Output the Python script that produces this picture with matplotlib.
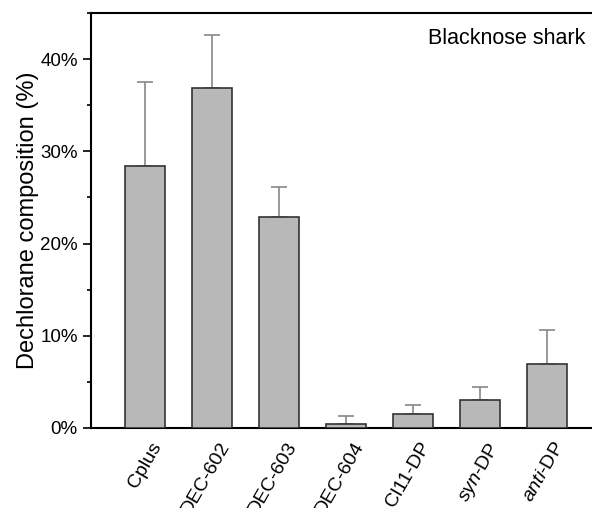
import matplotlib
matplotlib.use("Agg")
import matplotlib.pyplot as plt
import matplotlib.transforms as mtransforms
from matplotlib.ticker import MultipleLocator, FuncFormatter

plt.rcParams['font.family'] = ['Liberation Sans', 'DejaVu Sans']
plt.rcParams['mathtext.fontset'] = 'custom'
plt.rcParams['mathtext.rm'] = 'Liberation Sans'
plt.rcParams['mathtext.it'] = 'Liberation Sans:italic'

categories = ['Cplus', 'DEC-602', 'DEC-603', 'DEC-604', 'Cl11-DP', r'$\it{syn}$-DP', r'$\it{anti}$-DP']
means = [28.4, 36.9, 22.9, 0.4, 1.5, 3.0, 6.9]
errors = [9.1, 5.7, 3.2, 0.9, 1.0, 1.5, 3.7]

fig = plt.figure(figsize=(5.92, 5.08), dpi=100)
ax = fig.add_axes([91/592, 80/508, 510/592, 415/508])

x = list(range(len(categories)))
ax.bar(x, means, width=0.6, color='#b8b8b8', edgecolor='#333333', linewidth=1.2, zorder=3)
ax.errorbar(x, means, yerr=[[0]*len(errors), errors], fmt='none', ecolor='#888888',
            capsize=6, elinewidth=1.2, capthick=1.2, zorder=2)

ax.set_xlim(-0.8, 6.8)
ax.set_ylim(0, 45)
ax.yaxis.set_major_locator(MultipleLocator(10))
ax.yaxis.set_minor_locator(MultipleLocator(5))
ax.yaxis.set_major_formatter(FuncFormatter(lambda v, p: f'{v:.0f}%'))
ax.tick_params(axis='y', which='major', length=6, width=1.2, labelsize=13.5, direction='out')
ax.tick_params(axis='y', which='minor', length=3, width=1.2, direction='out')
ax.tick_params(axis='x', length=0, labelsize=14, pad=8)
ax.set_xticks(x)
ax.set_xticklabels(categories, rotation=60, ha='right', rotation_mode='anchor')
shift = mtransforms.ScaledTranslation(0.06, 0, fig.dpi_scale_trans)
for lbl in ax.get_xticklabels():
    lbl.set_transform(lbl.get_transform() + shift)
for s in ax.spines.values():
    s.set_linewidth(1.5)

ax.set_ylabel('Dechlorane composition (%)', fontsize=17, labelpad=1)
ax.text(0.969, 0.965, 'Blacknose shark', transform=ax.transAxes, fontsize=15.5,
        ha='right', va='top')

fig.savefig('out.png', dpi=100)
